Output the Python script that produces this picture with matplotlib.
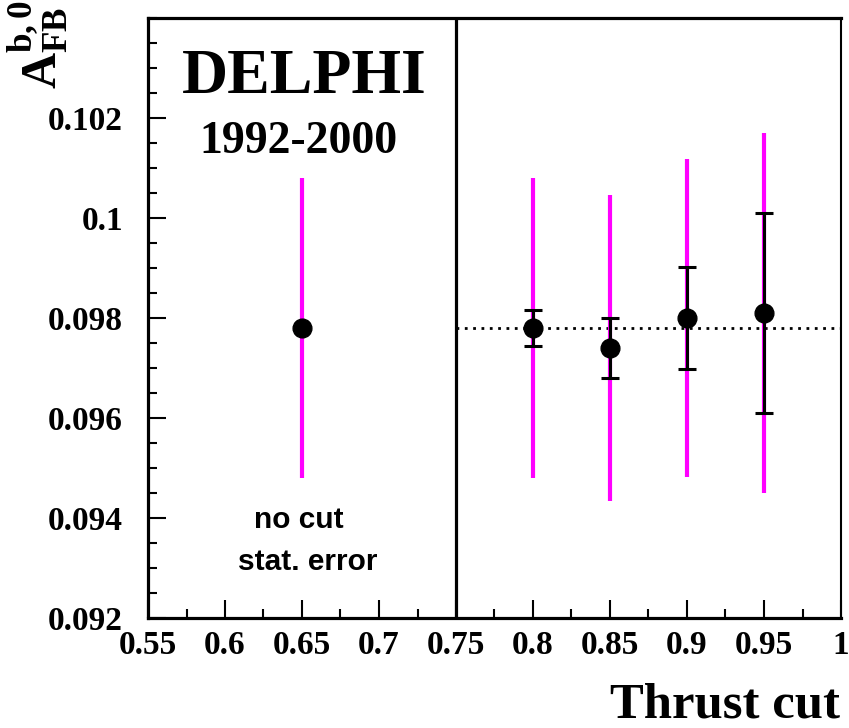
import matplotlib
matplotlib.use('Agg')
import matplotlib.pyplot as plt
from matplotlib.ticker import MultipleLocator, FixedFormatter, FixedLocator

plt.rcParams['mathtext.fontset'] = 'custom'
plt.rcParams['mathtext.rm'] = 'Liberation Serif:bold'
plt.rcParams['mathtext.bf'] = 'Liberation Serif:bold'
plt.rcParams['mathtext.it'] = 'Liberation Serif:bold'

# no-cut reference point
nocut_x = [0.65]
nocut_afb = [0.0978]
nocut_stat = [0.0030]

# thrust cut scan
cut_x = [0.80, 0.85, 0.90, 0.95]
cut_afb = [0.0978, 0.0974, 0.0980, 0.0981]
cut_stat = [0.0030, 0.00306, 0.00317, 0.0036]
cut_diff = [0.00035, 0.0006, 0.00102, 0.0020]

ref_value = 0.0978

xticks = [0.55, 0.6, 0.65, 0.7, 0.75, 0.8, 0.85, 0.9, 0.95, 1.0]
xticklabels = ['0.55', '0.6', '0.65', '0.7', '0.75', '0.8', '0.85', '0.9', '0.95', '1']
yticks = [0.092, 0.094, 0.096, 0.098, 0.1, 0.102]
yticklabels = ['0.092', '0.094', '0.096', '0.098', '0.1', '0.102']

serif = 'Liberation Serif'
sans = 'Liberation Sans'
magenta = '#ff00ff'

fig = plt.figure(figsize=(8.49, 7.28), dpi=100)
ax = fig.add_axes([148 / 849, 1 - 618 / 728, (841 - 148) / 849, (618 - 18) / 728])

ax.set_xlim(0.55, 1.0)
ax.set_ylim(0.092, 0.104)

# statistical errors (magenta)
ax.errorbar(nocut_x, nocut_afb, yerr=nocut_stat, fmt='none', ecolor=magenta,
            elinewidth=3.0, capsize=0, zorder=2)
ax.errorbar(cut_x, cut_afb, yerr=cut_stat, fmt='none', ecolor=magenta,
            elinewidth=3.0, capsize=0, zorder=2)

# uncorrelated differences (black)
ax.errorbar(cut_x, cut_afb, yerr=cut_diff, fmt='none', ecolor='black',
            elinewidth=2.2, capsize=6.5, capthick=2.2, zorder=3)

ax.plot(nocut_x, nocut_afb, 'o', color='black', markersize=13.5, zorder=4)
ax.plot(cut_x, cut_afb, 'o', color='black', markersize=13.5, zorder=4)

# reference line and separator
ax.plot([0.75, 1.0], [ref_value, ref_value], color='black', lw=2.0,
        linestyle=(0, (1, 2)), zorder=1)
ax.axvline(0.75, color='black', lw=2.3, zorder=1)

# ticks
ax.xaxis.set_major_locator(FixedLocator(xticks))
ax.xaxis.set_major_formatter(FixedFormatter(xticklabels))
ax.xaxis.set_minor_locator(MultipleLocator(0.025))
ax.yaxis.set_major_locator(FixedLocator(yticks))
ax.yaxis.set_major_formatter(FixedFormatter(yticklabels))
ax.yaxis.set_minor_locator(MultipleLocator(0.0005))
ax.tick_params(which='both', direction='in', top=False, right=False, width=1.5)
ax.tick_params(which='major', length=13)
ax.tick_params(which='minor', length=6.5)
ax.tick_params(axis='x', pad=9)
ax.tick_params(axis='y', pad=18)
for lab in ax.get_xticklabels() + ax.get_yticklabels():
    lab.set_fontfamily(serif)
    lab.set_fontweight('bold')
    lab.set_fontsize(24)

for side in ['left', 'bottom', 'top']:
    ax.spines[side].set_linewidth(2.3)
ax.spines['right'].set_linewidth(1.5)

# annotations
ax.text(0.6513, 0.1025, 'DELPHI', family=serif, weight='bold', fontsize=46,
        ha='center', va='baseline')
ax.text(0.6477, 0.1013, '1992-2000', family=serif, weight='bold', fontsize=33,
        ha='center', va='baseline')
ax.text(0.6477, 0.0938, 'no cut', family=sans, weight='bold', fontsize=21.5,
        ha='center', va='baseline')
ax.text(0.6539, 0.09296, 'stat. error', family=sans, weight='bold', fontsize=21.5,
        ha='center', va='baseline')

fig.text(38 / 849, 1 - 45 / 728, r'$\mathbf{A^{b,0}_{FB}}$', rotation=90,
         fontsize=36, ha='center', va='center')
fig.text(840 / 849, 1 - 718 / 728, 'Thrust cut', family=serif, weight='bold',
         fontsize=36.5, ha='right', va='baseline')

fig.savefig('out.png', dpi=100)
